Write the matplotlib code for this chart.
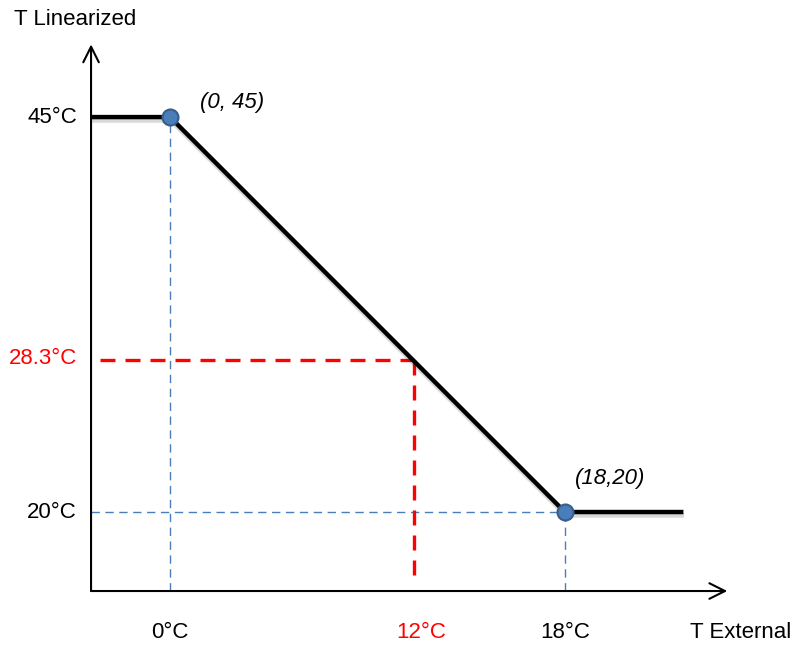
import matplotlib
matplotlib.use("Agg")
import matplotlib.pyplot as plt
import matplotlib.patheffects as pe

plt.rcParams['font.family'] = ['Liberation Sans', 'DejaVu Sans']

# curve: flat at 45 below 0°C, linear down to 20 at 18°C, flat after
curve_x = [-3.6, 0, 18, 23.4]
curve_y = [45, 45, 20, 20]

# key points
points_x = [0, 18]
points_y = [45, 20]
point_labels = ["(0, 45)", "(18,20)"]

# example reading (position as drawn in the schematic)
example_x = 11.1
example_y = 29.6
example_x_label = "12°C"
example_y_label = "28.3°C"

x_ticks = [0, 18]
x_tick_labels = ["0°C", "18°C"]
y_ticks = [45, 20]
y_tick_labels = ["45°C", "20°C"]

origin_x, origin_y = -3.6, 15.0
x_axis_end, y_axis_end = 25.4, 49.6

fig = plt.figure(figsize=(7.92, 6.46), dpi=100)
ax = fig.add_axes([0, 0, 1, 1])
ax.set_xlim(-7.75, 28.35)
ax.set_ylim(11.52, 52.41)
ax.axis('off')

blue = '#4a7ebb'
red = '#ff0000'

# axes with arrow heads
arrow = dict(arrowstyle='->', color='black', lw=1.5, mutation_scale=28,
             shrinkA=0, shrinkB=0)
ax.annotate('', xy=(x_axis_end, origin_y), xytext=(origin_x, origin_y), arrowprops=arrow)
ax.annotate('', xy=(origin_x, y_axis_end), xytext=(origin_x, origin_y), arrowprops=arrow)

# blue guide lines
ax.plot([points_x[0], points_x[0]], [origin_y, points_y[0]], color=blue, lw=1.0,
        dashes=(6, 4), zorder=2)
ax.plot([origin_x, points_x[1]], [points_y[1], points_y[1]], color=blue, lw=1.0,
        dashes=(6, 4), zorder=2)
ax.plot([points_x[1], points_x[1]], [origin_y, points_y[1]], color=blue, lw=1.0,
        dashes=(6, 4), zorder=2)

# red example lines
ax.plot([origin_x + 0.4, example_x], [example_y, example_y], color=red, lw=2.4,
        dashes=(4.5, 3), zorder=3)
ax.plot([example_x, example_x], [example_y, origin_y + 0.7], color=red, lw=2.4,
        dashes=(4.5, 3), zorder=3)

# main curve
ax.plot(curve_x, curve_y, color='black', lw=3.2, solid_capstyle='butt', zorder=4,
        path_effects=[pe.SimpleLineShadow(offset=(0.5, -2.5), alpha=0.15),
                      pe.Normal()])
ax.plot(points_x, points_y, 'o', ms=11.5, color=blue, mec='#385d8a', mew=1.5, zorder=5)

fs = 16
lab_y = 12.4
for x, lab in zip(x_ticks, x_tick_labels):
    ax.text(x, lab_y, lab, ha='center', va='center', fontsize=fs)
ax.text(11.46, lab_y, example_x_label, ha='center', va='center',
        fontsize=fs, color=red)
for y, lab in zip(y_ticks, y_tick_labels):
    ax.text(-4.24, y, lab, ha='right', va='center', fontsize=fs)
ax.text(-4.24, example_y + 0.1, example_y_label, ha='right', va='center', fontsize=fs,
        color=red)

ax.text(points_x[0] + 1.35, points_y[0] + 0.9, point_labels[0], fontsize=fs,
        style='italic', ha='left', va='center')
ax.text(points_x[1] + 0.45, points_y[1] + 2.15, point_labels[1], fontsize=fs,
        style='italic', ha='left', va='center')

ax.text(-7.1, 51.2, "T Linearized", fontsize=fs, ha='left', va='center')
ax.text(23.7, lab_y, "T External", fontsize=fs, ha='left', va='center')

fig.savefig('out.png', dpi=100)
